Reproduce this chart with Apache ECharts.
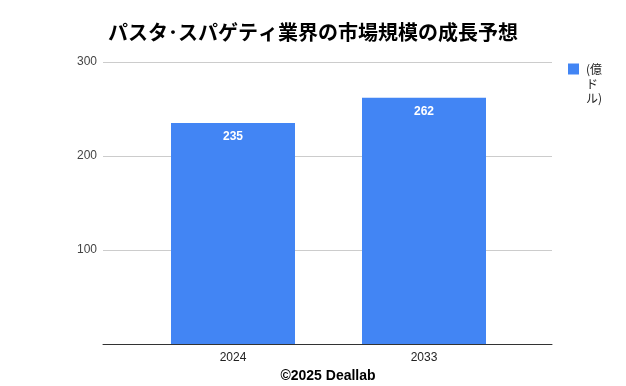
<!DOCTYPE html>
<html><head><meta charset="utf-8">
<script src="https://cdn.jsdelivr.net/npm/echarts@6/dist/echarts.min.js"></script>
<style>html,body{margin:0;padding:0;background:#fff}#c{width:626px;height:386px}</style>
</head><body><div id="c"></div>
<script>
const title = 'パスタ･スパゲティ業界の市場規模の成長予想';
const seriesName = '(億ドル)';
const legendLines = ['(億', 'ド', 'ル)'];
const categories = ['2024', '2033'];
const values = [235, 262];
const yTicks = [0, 100, 200, 300];
const footer = '©2025 Deallab';

const chart = echarts.init(document.getElementById('c'));
const font = '"Liberation Sans", Arial, sans-serif';
const cjk = '"Noto Sans CJK JP", sans-serif';
chart.setOption({
  animation: false,
  textStyle: { fontFamily: font },
  title: [{
    text: title, left: 'center', top: 17,
    textStyle: { fontSize: 20, fontWeight: 'bold', color: '#000', fontFamily: cjk }
  }],
  graphic: [{
    type: 'text', x: 328, y: 376,
    style: { text: footer, align: 'center', verticalAlign: 'middle',
      font: 'bold 14px "Liberation Sans", Arial, sans-serif', fill: '#000' }
  }, {
    type: 'text', x: 586, y: 77,
    style: { text: legendLines.slice(1).join('\n'), align: 'left', verticalAlign: 'top',
      font: '12px "Noto Sans CJK JP", sans-serif', lineHeight: 14, fill: '#222' }
  }],
  legend: {
    left: 568, top: 63, orient: 'vertical', padding: 0,
    itemWidth: 11, itemHeight: 11, itemGap: 5,
    icon: 'rect',
    formatter: () => legendLines[0],
    textStyle: { fontSize: 12, color: '#222', padding: [0, 0, 0, 2], fontFamily: cjk },
    data: [seriesName]
  },
  grid: [
    { left: 103, right: 74, top: 62, bottom: 42 },
    { left: 137.5, right: 106.5, top: 62, bottom: 42 }
  ],
  xAxis: [
    { gridIndex: 0, type: 'category', data: categories,
      axisLine: { lineStyle: { color: '#333', width: 1 } },
      axisTick: { show: false }, axisLabel: { show: false } },
    { gridIndex: 1, type: 'category', data: categories,
      axisLine: { show: false }, axisTick: { show: false },
      axisLabel: { color: '#222', fontSize: 12, margin: 8 } }
  ],
  yAxis: [
    { gridIndex: 0, type: 'value', min: yTicks[0], max: yTicks[yTicks.length - 1], interval: 100,
      axisLine: { show: false }, axisTick: { show: false },
      axisLabel: { color: '#444', fontSize: 12, margin: 6, formatter: v => v === 0 ? '' : String(v) },
      splitLine: { lineStyle: { color: '#cccccc' } } },
    { gridIndex: 1, type: 'value', min: yTicks[0], max: yTicks[yTicks.length - 1], interval: 100, show: false,
      splitLine: { show: false } }
  ],
  series: [{
    name: seriesName, type: 'bar', xAxisIndex: 1, yAxisIndex: 1,
    data: values, barWidth: 124,
    itemStyle: { color: '#4285F4' },
    label: { show: true, position: 'insideTop', distance: 8, color: '#fff', fontWeight: 'bold', fontSize: 12 }
  }]
});
</script></body></html>
